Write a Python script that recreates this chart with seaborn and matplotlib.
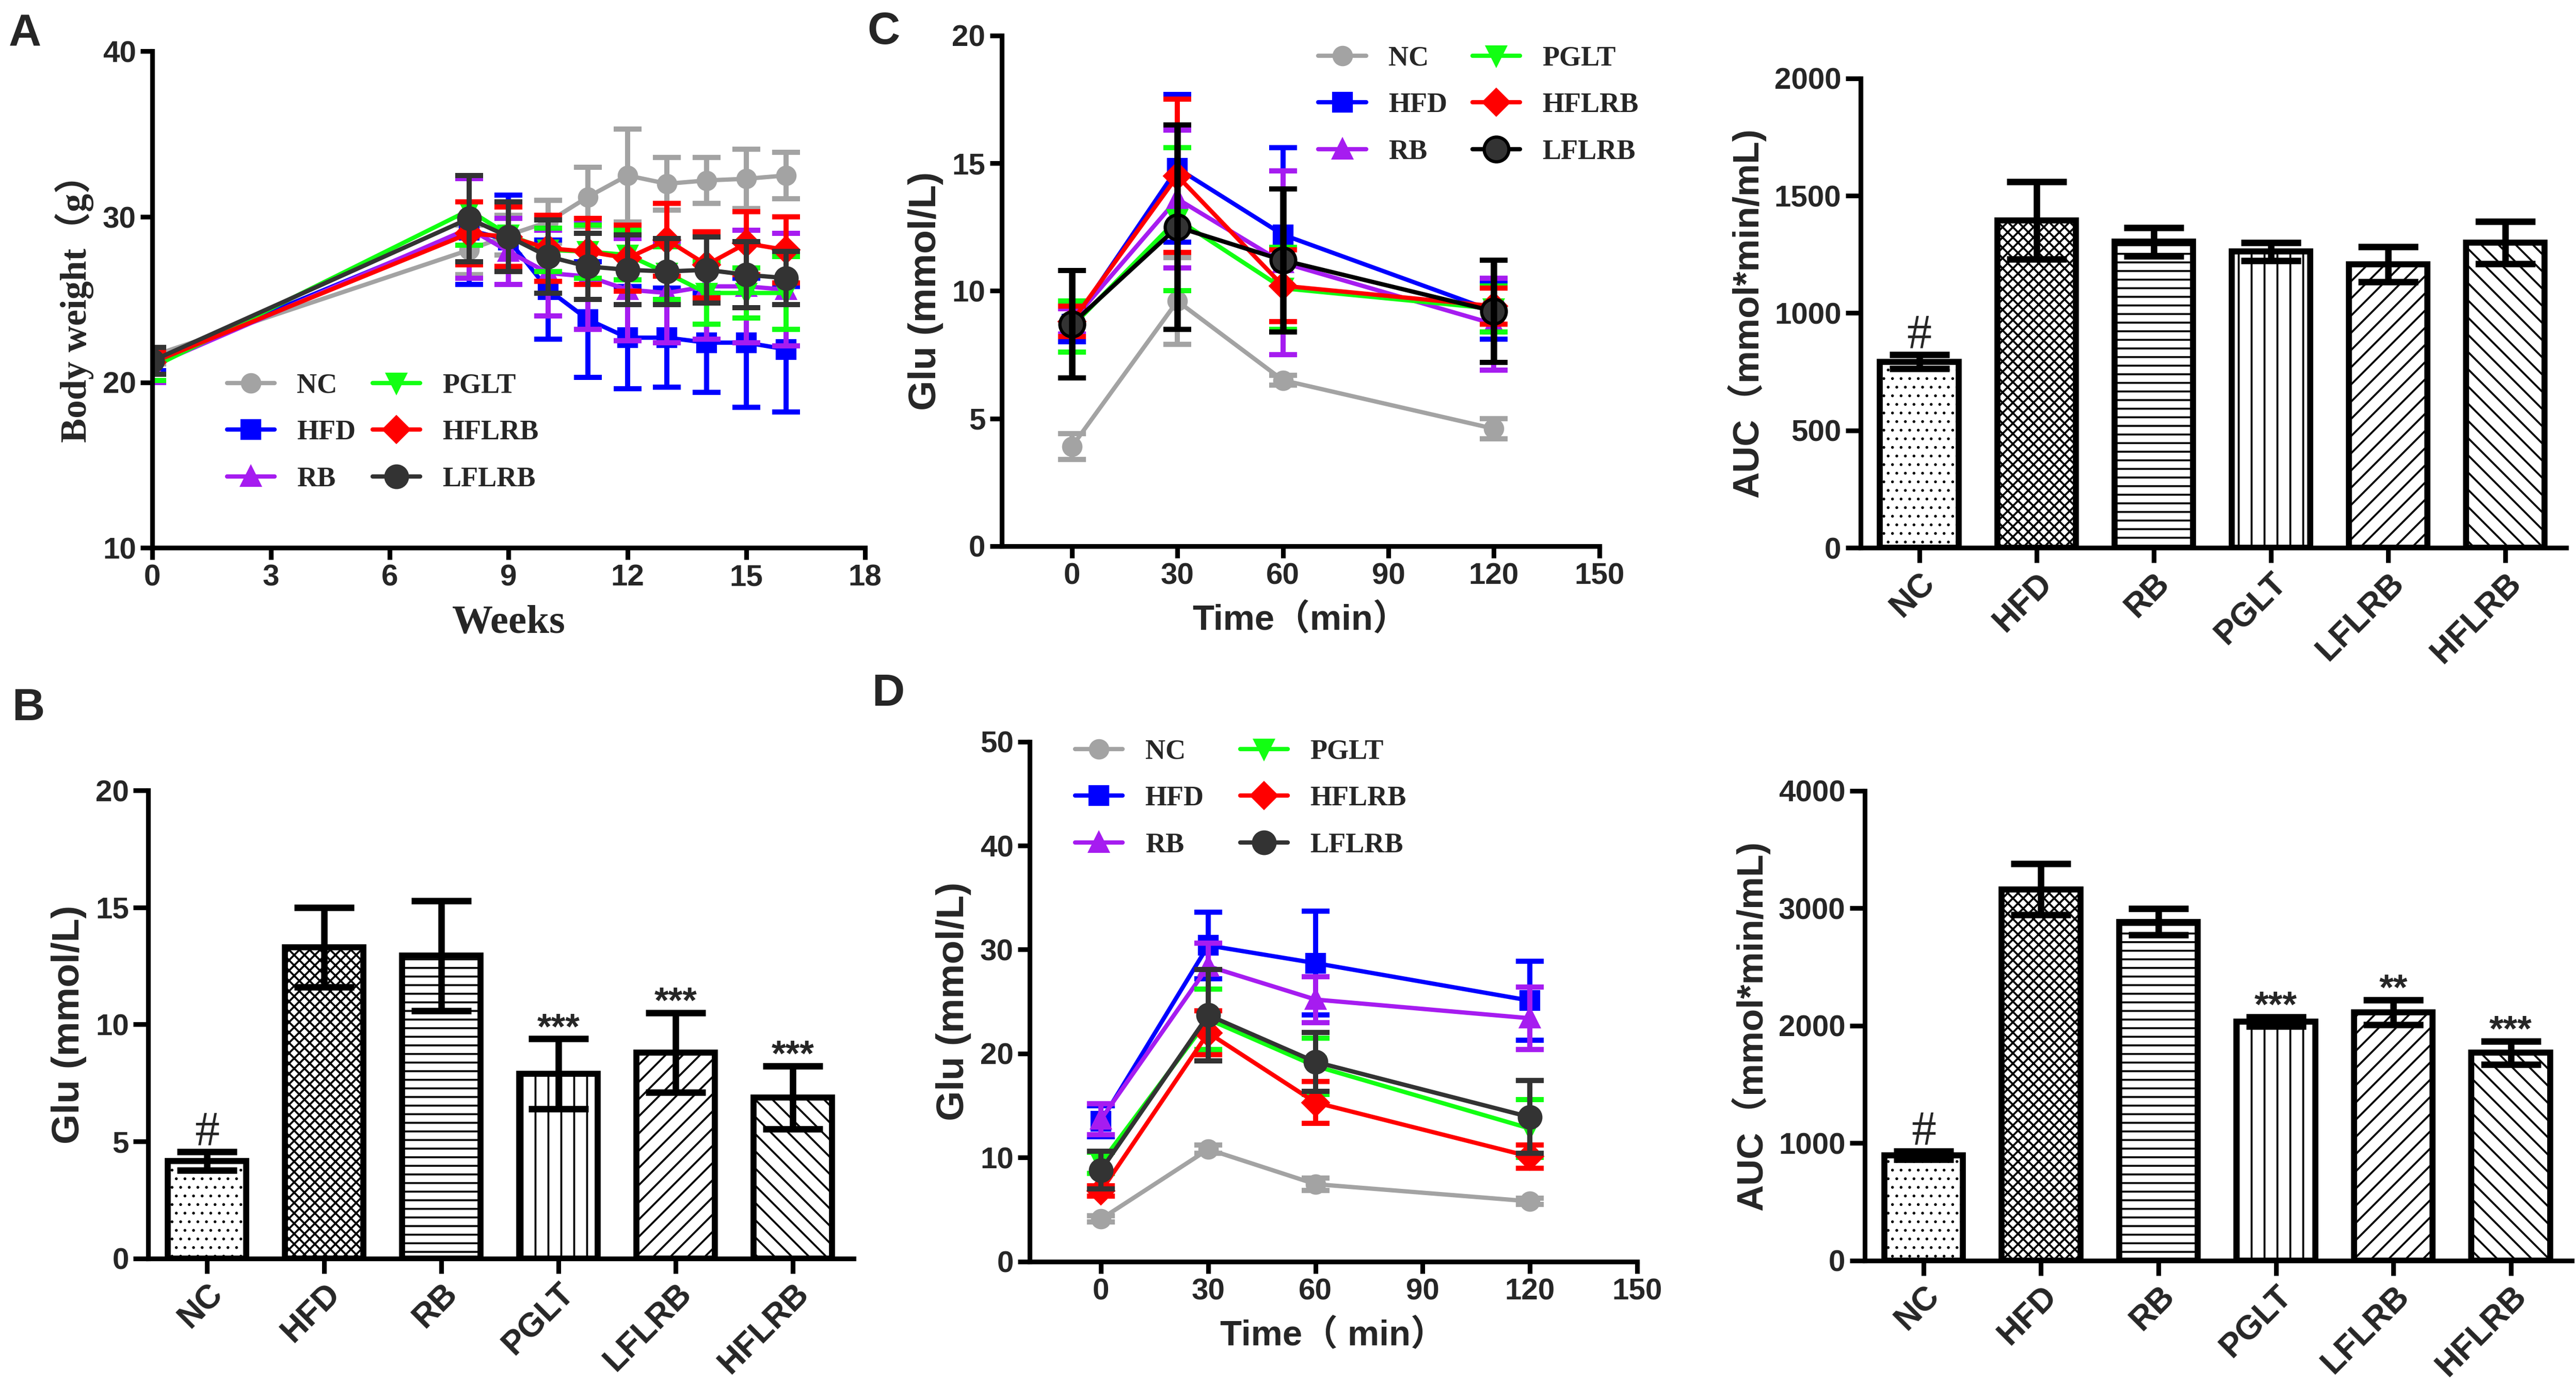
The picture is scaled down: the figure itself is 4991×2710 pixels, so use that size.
"""Body weight, fasting glucose and glucose tolerance figure (panels A-D)."""
import matplotlib
matplotlib.use("Agg")
import matplotlib.pyplot as plt
from matplotlib.font_manager import FontProperties
import seaborn as sns

# ---- data -----------------------------------------------------------------
line_groups = ["NC", "HFD", "RB", "PGLT", "HFLRB", "LFLRB"]
bar_groups = ["NC", "HFD", "RB", "PGLT", "LFLRB", "HFLRB"]

# A: body weight (g) over weeks
weeks = [0, 8, 9, 10, 11, 12, 13, 14, 15, 16]
bw_mean = {
    "NC": [21.6, 28.0, 28.9, 29.7, 31.2, 32.5, 32.0, 32.2, 32.3, 32.5],
    "HFD": [21.3, 29.2, 28.6, 25.6, 23.8, 22.7, 22.7, 22.4, 22.4, 22.0],
    "RB": [21.0, 29.3, 27.9, 26.6, 26.4, 25.6, 25.4, 25.8, 25.8, 25.6],
    "PGLT": [20.9, 30.4, 28.9, 28.0, 27.9, 27.7, 26.6, 25.4, 25.4, 25.4],
    "HFLRB": [21.2, 29.0, 28.8, 28.1, 27.9, 27.5, 28.6, 27.1, 28.4, 28.0],
    "LFLRB": [21.3, 29.9, 28.8, 27.6, 27.0, 26.8, 26.7, 26.8, 26.5, 26.3],
}
bw_sem = {
    "NC": [0.5, 1.5, 1.2, 1.3, 1.8, 2.8, 1.6, 1.4, 1.8, 1.4],
    "HFD": [0.6, 3.3, 2.7, 3.0, 3.5, 3.1, 3.0, 3.0, 3.9, 3.8],
    "RB": [1.0, 3.0, 2.0, 2.6, 3.2, 3.1, 3.0, 3.2, 3.4, 3.4],
    "PGLT": [0.8, 2.1, 2.0, 1.3, 1.6, 1.5, 1.6, 1.9, 1.5, 2.2],
    "HFLRB": [0.7, 1.9, 1.8, 2.0, 2.0, 2.0, 2.2, 2.0, 1.9, 2.0],
    "LFLRB": [0.8, 2.6, 2.1, 2.2, 2.0, 2.1, 2.0, 2.0, 2.0, 1.6],
}

# B: fasting glucose (mmol/L)
fbg_mean = [4.17, 13.3, 12.94, 7.88, 8.79, 6.88]
fbg_sem = [0.4, 1.7, 2.35, 1.5, 1.7, 1.35]
fbg_marks = ["#", "", "", "***", "***", "***"]

# C: tolerance curve (mmol/L) and its AUC
times = [0, 30, 60, 120]
c_mean = {
    "NC": [3.9, 9.6, 6.5, 4.6],
    "HFD": [8.7, 14.8, 12.2, 9.2],
    "RB": [8.8, 13.6, 11.1, 8.7],
    "PGLT": [8.6, 12.8, 10.1, 9.3],
    "HFLRB": [8.8, 14.5, 10.2, 9.4],
    "LFLRB": [8.7, 12.5, 11.2, 9.2],
}
c_sem = {
    "NC": [0.5, 1.7, 0.2, 0.4],
    "HFD": [0.7, 2.9, 3.4, 1.1],
    "RB": [0.5, 2.7, 3.6, 1.8],
    "PGLT": [1.0, 2.8, 1.6, 0.9],
    "HFLRB": [0.6, 3.0, 1.4, 0.7],
    "LFLRB": [2.1, 4.0, 2.8, 2.0],
}
c_auc_mean = [793, 1395, 1304, 1262, 1207, 1300]
c_auc_sem = [30, 165, 60, 38, 75, 91]
c_auc_marks = ["#", "", "", "", "", ""]

# D: tolerance curve (mmol/L) and its AUC
d_mean = {
    "NC": [4.1, 10.8, 7.45, 5.8],
    "HFD": [13.5, 30.4, 28.7, 25.1],
    "RB": [13.7, 28.4, 25.2, 23.4],
    "PGLT": [9.5, 23.3, 18.8, 12.8],
    "HFLRB": [6.8, 22.0, 15.3, 10.1],
    "LFLRB": [8.8, 23.7, 19.2, 13.9],
}
d_sem = {
    "NC": [0.3, 0.4, 0.6, 0.3],
    "HFD": [1.5, 3.2, 5.0, 3.8],
    "RB": [1.5, 2.2, 2.2, 3.0],
    "PGLT": [1.0, 2.9, 2.7, 2.8],
    "HFLRB": [0.5, 2.1, 2.0, 1.1],
    "LFLRB": [1.8, 4.4, 2.85, 3.5],
}
d_auc_mean = [897, 3162, 2885, 2036, 2115, 1771]
d_auc_sem = [35, 217, 111, 40, 106, 99]
d_auc_marks = ["#", "", "", "***", "**", "***"]

# ---- styles ---------------------------------------------------------------
COLORS = {"NC": "#a3a3a3", "HFD": "#0000ff", "RB": "#a61cf0",
          "PGLT": "#12ff12", "HFLRB": "#ff0000", "LFLRB": "#333333"}
MARKERS = {"NC": "o", "HFD": "s", "RB": "^", "PGLT": "v",
           "HFLRB": "D", "LFLRB": "o"}
HATCHES = ["...", "xxxxx", "---", "||", "///", "\\\\\\"]
HATCH_LW = [0.5, 0.9, 0.9, 0.9, 0.9, 0.9]

SANS = ["Liberation Sans", "Noto Sans CJK SC"]
SERIF = ["Liberation Serif", "Noto Sans CJK SC"]

sns.set_theme(style="ticks")
plt.rcParams["font.family"] = SANS
plt.rcParams["font.weight"] = "bold"
plt.rcParams["axes.linewidth"] = 2.2
plt.rcParams["hatch.linewidth"] = 0.9

fig = plt.figure(figsize=(4991 / 300, 2710 / 300), dpi=300)


def style_axes(ax, ticklen=5.5, xsize=14):
    for side in ("top", "right"):
        ax.spines[side].set_visible(False)
    for side in ("left", "bottom"):
        ax.spines[side].set_linewidth(2.2)
        ax.spines[side].set_color("black")
    ax.tick_params(direction="out", length=ticklen, width=2.2, color="black",
                   labelsize=14, pad=2)
    ax.tick_params(axis="x", labelsize=xsize)
    for lbl in ax.get_xticklabels() + ax.get_yticklabels():
        lbl.set_fontweight("bold")


def line_panel(ax, x, means, sems, big_last=False, marker_size=8):
    for g in line_groups:
        c = COLORS[g]
        ms = marker_size
        mfc, mec = c, c
        if g == "LFLRB":
            ms = marker_size + 2 if not big_last else 11.5
            if big_last:
                mec = "black"
        line_col = "black" if (big_last and g == "LFLRB") else c
        sns.lineplot(x=x, y=means[g], ax=ax, color=line_col, marker=MARKERS[g],
                     markersize=ms, markerfacecolor=mfc, markeredgecolor=mec,
                     markeredgewidth=1.5, linewidth=2.0, label=g)
        ax.errorbar(x, means[g], yerr=sems[g], fmt="none", ecolor=line_col,
                    elinewidth=2.4 if not (big_last and g == "LFLRB") else 3.0,
                    capsize=6.5, capthick=2.4)


def add_legend(ax, anchor, colspace, font_family=SERIF):
    handles, labels = ax.get_legend_handles_labels()
    ax.legend(handles, labels, ncol=2, frameon=False, loc="upper left",
              bbox_to_anchor=anchor, borderaxespad=0, borderpad=0,
              handlelength=1.7, handletextpad=0.8, columnspacing=colspace,
              labelspacing=0.75,
              prop=FontProperties(family=font_family, weight="bold", size=13))


def bar_panel(ax, means, sems, marks, ylim, yticks):
    sns.barplot(x=bar_groups, y=means, ax=ax, color="white",
                edgecolor="black", linewidth=2.8, width=0.67, saturation=1)
    for patch, h, hlw in zip(ax.patches, HATCHES, HATCH_LW):
        patch.set_hatch(h)
        patch.set_facecolor("white")
        if hasattr(patch, "set_hatch_linewidth"):
            patch.set_hatch_linewidth(hlw)
    ax.errorbar(range(len(bar_groups)), means, yerr=sems, fmt="none",
                ecolor="black", elinewidth=3, capsize=14, capthick=3, zorder=5)
    for i, m in enumerate(marks):
        if not m:
            continue
        top = means[i] + sems[i]
        if m == "#":
            ax.annotate(m, (i, top), xytext=(0, 3), textcoords="offset points",
                        ha="center", va="baseline", fontsize=23,
                        fontweight="normal", family=SERIF)
        else:
            ax.annotate(m, (i, top), xytext=(0, 0), textcoords="offset points",
                        ha="center", va="baseline", fontsize=17,
                        fontweight="bold")
    ax.set_xlim(-0.5, 5.52)
    ax.set_ylim(*ylim)
    ax.set_yticks(yticks)
    ax.set_xticks(range(len(bar_groups)))
    ax.set_xticklabels(bar_groups, rotation=45, ha="right",
                       rotation_mode="anchor")
    ax.set_xlabel("")
    style_axes(ax, ticklen=7, xsize=15.5)


# ---- A --------------------------------------------------------------------
ax_a = fig.add_axes([0.0591, 0.6084, 0.2767, 0.3549])
line_panel(ax_a, weeks, bw_mean, bw_sem)
ax_a.set_xlim(0, 18)
ax_a.set_ylim(10, 40)
ax_a.set_xticks(range(0, 19, 3))
ax_a.set_yticks([10, 20, 30, 40])
ax_a.set_xlabel("Weeks", family=SERIF, fontsize=19, fontweight="bold",
                labelpad=6)
ax_a.set_ylabel("Body weight（g）", family=SERIF, fontsize=17,
                fontweight="bold", labelpad=4)
add_legend(ax_a, (0.105, 0.352), 0.6)
style_axes(ax_a)

# ---- C (curve) ------------------------------------------------------------
ax_c = fig.add_axes([0.3888, 0.6096, 0.2321, 0.3650])
line_panel(ax_c, times, c_mean, c_sem, big_last=True)
ax_c.set_xlim(-20, 150)
ax_c.set_ylim(0, 20)
ax_c.set_xticks(range(0, 151, 30))
ax_c.set_yticks(range(0, 21, 5))
ax_c.set_xlabel("Time（min）", fontsize=16.5, fontweight="bold", labelpad=6)
ax_c.set_ylabel("Glu (mmol/L)", fontsize=18, fontweight="bold", labelpad=4)
add_legend(ax_c, (0.53, 0.98), 0.9)
style_axes(ax_c)

# ---- C (AUC) --------------------------------------------------------------
ax_c2 = fig.add_axes([0.7223, 0.6084, 0.2739, 0.3356])
bar_panel(ax_c2, c_auc_mean, c_auc_sem, c_auc_marks, (0, 2000),
          range(0, 2001, 500))
ax_c2.set_ylabel("AUC（mmol*min/mL)", fontsize=17, fontweight="bold",
                 labelpad=4)

# ---- B --------------------------------------------------------------------
ax_b = fig.add_axes([0.0576, 0.1005, 0.2738, 0.3345])
bar_panel(ax_b, fbg_mean, fbg_sem, fbg_marks, (0, 20), range(0, 21, 5))
ax_b.set_ylabel("Glu (mmol/L)", fontsize=18, fontweight="bold", labelpad=4)

# ---- D (curve) ------------------------------------------------------------
ax_d = fig.add_axes([0.3997, 0.0982, 0.2358, 0.3717])
line_panel(ax_d, times, d_mean, d_sem)
ax_d.set_xlim(-20, 150)
ax_d.set_ylim(0, 50)
ax_d.set_xticks(range(0, 151, 30))
ax_d.set_yticks(range(0, 51, 10))
ax_d.set_xlabel("Time（ min）", fontsize=16.5, fontweight="bold", labelpad=6)
ax_d.set_ylabel("Glu (mmol/L)", fontsize=18, fontweight="bold", labelpad=4)
add_legend(ax_d, (0.075, 1.005), 1.3)
style_axes(ax_d)

# ---- D (AUC) --------------------------------------------------------------
ax_d2 = fig.add_axes([0.7239, 0.0989, 0.2745, 0.3358])
bar_panel(ax_d2, d_auc_mean, d_auc_sem, d_auc_marks, (0, 4000),
          range(0, 4001, 1000))
ax_d2.set_ylabel("AUC（mmol*min/mL)", fontsize=17, fontweight="bold",
                 labelpad=4)

# ---- panel letters --------------------------------------------------------
for letter, (x, y) in {"A": (0.0098, 0.9756), "C": (0.343, 0.977),
                       "B": (0.0109, 0.4937), "D": (0.3447, 0.5037)}.items():
    fig.text(x, y, letter, fontsize=21, fontweight="bold", ha="center",
             va="center", family=SANS)

fig.savefig("out.png", dpi=300)
